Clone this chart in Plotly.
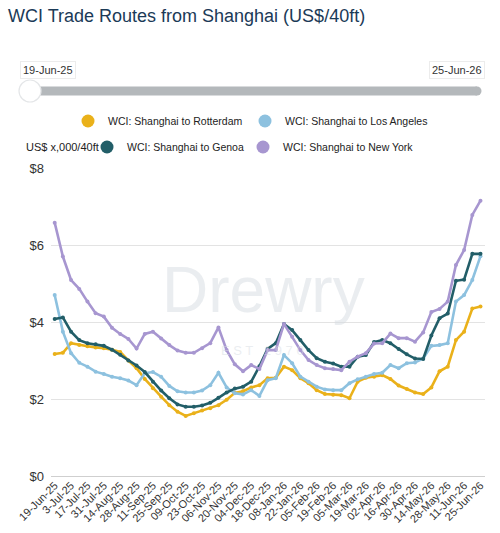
import plotly.graph_objects as go

dates = ["19-Jun-25","26-Jun-25","3-Jul-25","10-Jul-25","17-Jul-25","24-Jul-25","31-Jul-25",
         "07-Aug-25","14-Aug-25","21-Aug-25","28-Aug-25","04-Sep-25","11-Sep-25","18-Sep-25",
         "25-Sep-25","02-Oct-25","09-Oct-25","16-Oct-25","23-Oct-25","30-Oct-25","06-Nov-25",
         "13-Nov-25","20-Nov-25","27-Nov-25","04-Dec-25","11-Dec-25","18-Dec-25","31-Dec-25",
         "08-Jan-26","15-Jan-26","22-Jan-26","29-Jan-26","05-Feb-26","12-Feb-26","19-Feb-26",
         "26-Feb-26","05-Mar-26","12-Mar-26","19-Mar-26","26-Mar-26","02-Apr-26","09-Apr-26",
         "16-Apr-26","23-Apr-26","30-Apr-26","07-May-26","14-May-26","21-May-26","28-May-26",
         "04-Jun-26","11-Jun-26","18-Jun-26","25-Jun-26"]

rotterdam = [3.17, 3.20, 3.45, 3.40, 3.37, 3.34, 3.32, 3.28, 3.22, 3.00, 2.80, 2.52, 2.28, 2.06,
             1.84, 1.67, 1.56, 1.63, 1.70, 1.76, 1.84, 1.98, 2.16, 2.20, 2.30, 2.36, 2.54, 2.55,
             2.84, 2.75, 2.54, 2.41, 2.23, 2.13, 2.11, 2.10, 2.02, 2.45, 2.55, 2.58, 2.62, 2.52,
             2.35, 2.26, 2.17, 2.13, 2.30, 2.72, 2.84, 3.53, 3.75, 4.35, 4.40]

los_angeles = [4.70, 3.75, 3.19, 2.94, 2.84, 2.71, 2.65, 2.58, 2.54, 2.48, 2.36, 2.67, 2.70, 2.58,
               2.34, 2.20, 2.17, 2.17, 2.22, 2.36, 2.68, 2.30, 2.15, 2.12, 2.23, 2.08, 2.49, 2.54,
               3.14, 2.93, 2.58, 2.45, 2.32, 2.25, 2.23, 2.23, 2.41, 2.51, 2.58, 2.65, 2.68, 2.88,
               2.80, 2.93, 2.95, 3.05, 3.38, 3.40, 3.45, 4.53, 4.70, 5.09, 5.71]

genoa = [4.08, 4.12, 3.75, 3.53, 3.45, 3.42, 3.38, 3.28, 3.15, 3.00, 2.87, 2.70, 2.45, 2.22,
         2.02, 1.86, 1.80, 1.80, 1.83, 1.90, 2.03, 2.17, 2.27, 2.32, 2.45, 2.85, 3.30, 3.45,
         3.95, 3.79, 3.53, 3.27, 3.06, 2.97, 2.92, 2.84, 2.84, 3.10, 3.14, 3.48, 3.53, 3.45,
         3.30, 3.16, 3.05, 3.04, 3.65, 4.10, 4.22, 5.07, 5.10, 5.77, 5.77]

new_york = [6.58, 5.70, 5.09, 4.86, 4.53, 4.23, 4.14, 3.85, 3.69, 3.56, 3.31, 3.69, 3.75, 3.57,
            3.40, 3.26, 3.20, 3.20, 3.32, 3.45, 3.86, 3.27, 2.90, 2.72, 2.88, 2.78, 3.27, 3.27,
            3.95, 3.62, 3.27, 3.01, 2.88, 2.80, 2.78, 2.75, 2.97, 3.10, 3.19, 3.44, 3.45, 3.70,
            3.58, 3.58, 3.49, 3.73, 4.26, 4.34, 4.53, 5.48, 5.87, 6.78, 7.15]

series_names = ["WCI: Shanghai to Rotterdam", "WCI: Shanghai to Los Angeles",
                "WCI: Shanghai to Genoa", "WCI: Shanghai to New York"]
series_values = [rotterdam, los_angeles, genoa, new_york]
series_colors = ["#EAB11A", "#8DC1DF", "#225E68", "#A796D0"]
legend_ids = ["legend", "legend2", "legend3", "legend4"]

y_ticks = [0, 2, 4, 6, 8]
y_ticktext = ["$0", "$2", "$4", "$6", "$8"]
tick_dates = dates[::2]

W, H = 500, 533
ML, MR, MT, MB = 51, 15, 168, 57
PW, PH = W - ML - MR, H - MT - MB


def px(xp):
    return (xp - ML) / PW


def py(yp):
    return (H - MB - yp) / PH


fig = go.Figure()

for name, vals, col in zip(series_names, series_values, series_colors):
    fig.add_trace(go.Scatter(
        x=dates, y=vals, mode="lines+markers", name=name,
        line=dict(color=col, width=2.6), marker=dict(color=col, size=4),
        showlegend=False, hoverinfo="x+y"))

for name, col, lg in zip(series_names, series_colors, legend_ids):
    fig.add_trace(go.Scatter(
        x=[None], y=[None], mode="markers", name=name,
        marker=dict(color=col, size=13), legend=lg, showlegend=True))

font_main = "Arial, Liberation Sans, sans-serif"

shapes = [
    # slider track
    dict(type="rect", xref="paper", yref="paper", x0=px(28), x1=px(477), y0=py(95.5), y1=py(86.5),
         fillcolor="#B4B8BB", line=dict(width=0), layer="above"),
    dict(type="circle", xref="paper", yref="paper", x0=px(472.5), x1=px(481.5), y0=py(95.5), y1=py(86.5),
         fillcolor="#B4B8BB", line=dict(width=0), layer="above"),
    # handle
    dict(type="circle", xref="paper", yref="paper", x0=px(19), x1=px(41), y0=py(102), y1=py(80),
         fillcolor="#FFFFFF", line=dict(color="#E4E6E8", width=1.2), layer="above"),
]

annotations = [
    dict(text="Drewry", xref="paper", yref="paper", x=px(263), y=py(290), xanchor="center",
         yanchor="middle", showarrow=False,
         font=dict(size=64, color="rgba(214,220,226,0.5)", family="Arial, sans-serif")),
    dict(text="E S T   1 9 7 0", xref="paper", yref="paper", x=px(262), y=py(350), xanchor="center",
         yanchor="middle", showarrow=False,
         font=dict(size=13, color="rgba(214,220,226,0.5)", family="Arial, sans-serif")),
    dict(text="19-Jun-25", xref="paper", yref="paper", x=px(47.5), y=py(70), xanchor="center",
         yanchor="middle", showarrow=False,
         font=dict(size=11, color="#333333", family=font_main), bgcolor="white",
         bordercolor="#ECECEC", borderwidth=1, borderpad=2),
    dict(text="25-Jun-26", xref="paper", yref="paper", x=px(457), y=py(70), xanchor="center",
         yanchor="middle", showarrow=False,
         font=dict(size=11, color="#333333", family=font_main), bgcolor="white",
         bordercolor="#ECECEC", borderwidth=1, borderpad=2),
    dict(text="US$ x,000/40ft", xref="paper", yref="paper", x=px(24), y=py(147), xanchor="left",
         yanchor="middle", showarrow=False,
         font=dict(size=11, color="#222222", family=font_main)),
]

legend_pos = {"legend": (68, 121), "legend2": (245, 121), "legend3": (87, 147), "legend4": (243, 147)}

layout_legends = {}
for lid, (lx, ly) in legend_pos.items():
    layout_legends[lid] = dict(
        orientation="h", x=px(lx), y=py(ly), xanchor="left", yanchor="middle",
        xref="paper", yref="paper",
        font=dict(size=10.5, color="#222222", family=font_main),
        itemsizing="trace", bgcolor="rgba(0,0,0,0)")

fig.update_layout(
    width=W, height=H,
    margin=dict(l=ML, r=MR, t=MT, b=MB, autoexpand=False),
    paper_bgcolor="white", plot_bgcolor="white",
    title=dict(text="WCI Trade Routes from Shanghai (US$/40ft)", x=8 / W, xanchor="left",
               xref="container", y=1 - 16 / H, yanchor="middle", yref="container",
               font=dict(size=18, color="#1B3A57", family=font_main)),
    xaxis=dict(type="category", range=[-0.45, 52.55], tickvals=tick_dates, ticktext=tick_dates,
               tickangle=-45, tickfont=dict(size=11, color="#333333", family=font_main),
               showgrid=False, showline=False, zeroline=False, ticks="", automargin=False),
    yaxis=dict(range=[0, 8], tickvals=y_ticks, ticktext=y_ticktext,
               tickfont=dict(size=13, color="#333333", family=font_main),
               showgrid=True, gridcolor="#E3E3E3", gridwidth=1, zeroline=True,
               zerolinecolor="#CFCFCF", zerolinewidth=1.2, showline=False, ticks="",
               ticklabelstandoff=6, automargin=False),
    shapes=shapes, annotations=annotations,
    hovermode="x unified",
    **layout_legends,
)

fig.write_html("out.html")
